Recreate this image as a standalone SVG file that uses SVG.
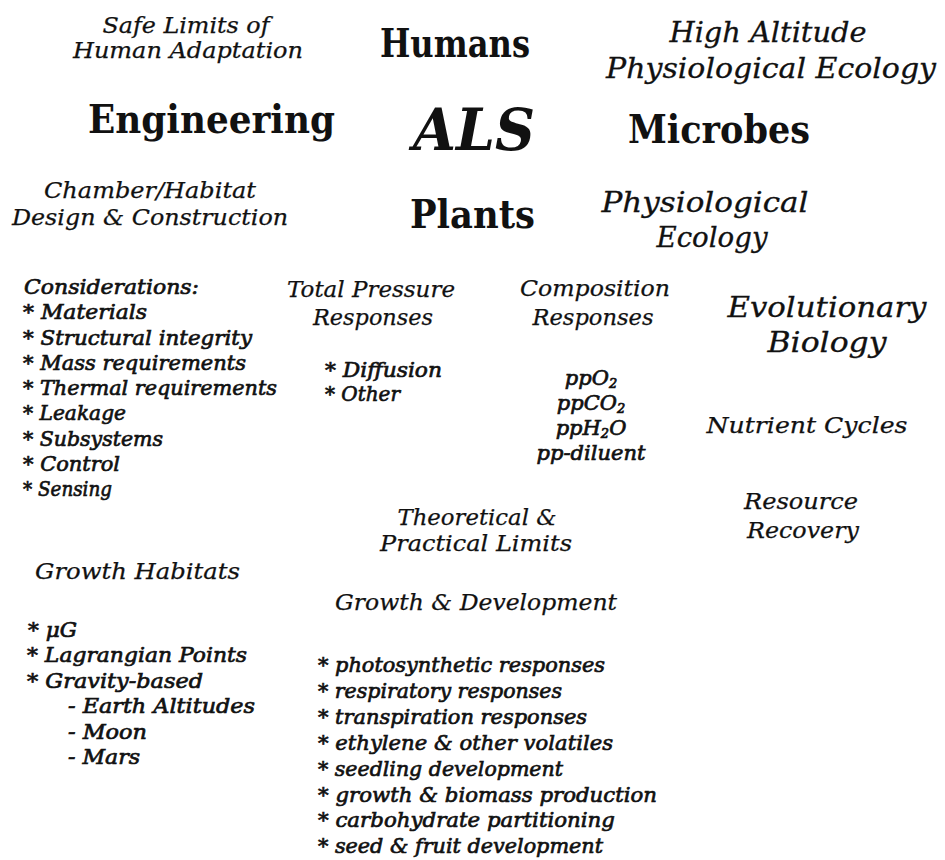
<svg xmlns="http://www.w3.org/2000/svg" width="945" height="860" viewBox="0 0 945 860">
<style>
text{font-family:"DejaVu Serif","Liberation Serif",serif;fill:#111}
.i{font-style:italic;font-size:22px;stroke:#111;stroke-width:0.25px}
.l{font-style:italic;font-size:21px;stroke:#111;stroke-width:0.7px}
.h{font-weight:bold;font-size:40px}
.c{text-anchor:middle}
.m{font-style:italic;font-size:28px;stroke:#111;stroke-width:0.3px}
</style>
<rect width="945" height="860" fill="#fff"/>
<g id="safe-limits">
<text class="i c" x="186" y="33" textLength="167" lengthAdjust="spacingAndGlyphs">Safe Limits of</text>
<text class="i c" x="188" y="58" textLength="230" lengthAdjust="spacingAndGlyphs">Human Adaptation</text>
</g>
<g id="humans"><text class="h" x="380" y="57" textLength="150" lengthAdjust="spacingAndGlyphs">Humans</text></g>
<g id="high-altitude">
<text class="m c" x="768" y="42" font-size="27" textLength="197" lengthAdjust="spacingAndGlyphs">High Altitude</text>
<text class="m c" x="771" y="78" font-size="27" textLength="330" lengthAdjust="spacingAndGlyphs">Physiological Ecology</text>
</g>
<g id="engineering"><text class="h" x="88" y="133" font-size="42" textLength="247" lengthAdjust="spacingAndGlyphs">Engineering</text></g>
<g id="als"><text x="413" y="150" font-size="58" font-weight="bold" font-style="italic" textLength="122" lengthAdjust="spacingAndGlyphs">ALS</text></g>
<g id="microbes"><text class="h" x="628" y="143" textLength="182" lengthAdjust="spacingAndGlyphs">Microbes</text></g>
<g id="chamber">
<text class="i c" x="150" y="198" textLength="212" lengthAdjust="spacingAndGlyphs">Chamber/Habitat</text>
<text class="i c" x="150" y="225" textLength="276" lengthAdjust="spacingAndGlyphs">Design &amp; Construction</text>
</g>
<g id="plants"><text class="h" x="410" y="228" textLength="125" lengthAdjust="spacingAndGlyphs">Plants</text></g>
<g id="physiological-ecology">
<text class="m c" x="705" y="212" font-size="29" textLength="207" lengthAdjust="spacingAndGlyphs">Physiological</text>
<text class="m c" x="712" y="247" font-size="29" textLength="111" lengthAdjust="spacingAndGlyphs">Ecology</text>
</g>
<g id="considerations">
<text class="l" x="24" y="294" textLength="175" lengthAdjust="spacingAndGlyphs">Considerations:</text>
<text class="l" x="23" y="319" textLength="124" lengthAdjust="spacingAndGlyphs">* Materials</text>
<text class="l" x="23" y="345" textLength="229" lengthAdjust="spacingAndGlyphs">* Structural integrity</text>
<text class="l" x="23" y="370" textLength="223" lengthAdjust="spacingAndGlyphs">* Mass requirements</text>
<text class="l" x="23" y="395" textLength="254" lengthAdjust="spacingAndGlyphs">* Thermal requirements</text>
<text class="l" x="23" y="420" textLength="103" lengthAdjust="spacingAndGlyphs">* Leakage</text>
<text class="l" x="23" y="446" textLength="140" lengthAdjust="spacingAndGlyphs">* Subsystems</text>
<text class="l" x="23" y="471" textLength="97" lengthAdjust="spacingAndGlyphs">* Control</text>
<text class="l" x="23" y="496" textLength="89" lengthAdjust="spacingAndGlyphs">* Sensing</text>
</g>
<g id="total-pressure">
<text class="i c" x="371" y="297" textLength="168" lengthAdjust="spacingAndGlyphs">Total Pressure</text>
<text class="i c" x="373" y="325" textLength="120" lengthAdjust="spacingAndGlyphs">Responses</text>
<text class="l" x="325" y="377" textLength="117" lengthAdjust="spacingAndGlyphs">* Diffusion</text>
<text class="l" x="325" y="401" textLength="75" lengthAdjust="spacingAndGlyphs">* Other</text>
</g>
<g id="composition">
<text class="i c" x="595" y="296" textLength="150" lengthAdjust="spacingAndGlyphs">Composition</text>
<text class="i c" x="593" y="325" textLength="121" lengthAdjust="spacingAndGlyphs">Responses</text>
<text class="l c" x="591" y="385" font-size="20">ppO<tspan font-size="13" dy="3">2</tspan></text>
<text class="l c" x="591" y="410" font-size="20">ppCO<tspan font-size="13" dy="3">2</tspan></text>
<text class="l c" x="591" y="435" font-size="20">ppH<tspan font-size="13" dy="3">2</tspan><tspan dy="-3">O</tspan></text>
<text class="l c" x="591" y="460" font-size="20">pp-diluent</text>
</g>
<g id="evolutionary">
<text class="m c" x="827" y="317" font-size="31" textLength="199" lengthAdjust="spacingAndGlyphs">Evolutionary</text>
<text class="m c" x="827" y="352" font-size="31" textLength="119" lengthAdjust="spacingAndGlyphs">Biology</text>
</g>
<g id="nutrient"><text class="i c" x="807" y="433" font-size="23" textLength="201" lengthAdjust="spacingAndGlyphs">Nutrient Cycles</text></g>
<g id="resource">
<text class="i c" x="801" y="509" font-size="23" textLength="114" lengthAdjust="spacingAndGlyphs">Resource</text>
<text class="i c" x="803" y="538" font-size="23" textLength="112" lengthAdjust="spacingAndGlyphs">Recovery</text>
</g>
<g id="limits">
<text class="i c" x="477" y="525" textLength="159" lengthAdjust="spacingAndGlyphs">Theoretical &amp;</text>
<text class="i c" x="476" y="551" textLength="192" lengthAdjust="spacingAndGlyphs">Practical Limits</text>
</g>
<g id="growth-habitats">
<text class="i" x="35" y="579" textLength="205" lengthAdjust="spacingAndGlyphs">Growth Habitats</text>
<text class="l" x="28" y="637" textLength="49" lengthAdjust="spacingAndGlyphs">* μG</text>
<text class="l" x="27" y="662" textLength="220" lengthAdjust="spacingAndGlyphs">* Lagrangian Points</text>
<text class="l" x="27" y="688" textLength="176" lengthAdjust="spacingAndGlyphs">* Gravity-based</text>
<text class="l" x="68" y="713" textLength="187" lengthAdjust="spacingAndGlyphs">- Earth Altitudes</text>
<text class="l" x="68" y="739" textLength="79" lengthAdjust="spacingAndGlyphs">- Moon</text>
<text class="l" x="68" y="764" textLength="72" lengthAdjust="spacingAndGlyphs">- Mars</text>
</g>
<g id="growth-development">
<text class="i" x="335" y="610" textLength="282" lengthAdjust="spacingAndGlyphs">Growth &amp; Development</text>
<text class="l" x="318" y="672" textLength="287" lengthAdjust="spacingAndGlyphs">* photosynthetic responses</text>
<text class="l" x="318" y="698" textLength="244" lengthAdjust="spacingAndGlyphs">* respiratory responses</text>
<text class="l" x="318" y="724" textLength="269" lengthAdjust="spacingAndGlyphs">* transpiration responses</text>
<text class="l" x="318" y="750" textLength="295" lengthAdjust="spacingAndGlyphs">* ethylene &amp; other volatiles</text>
<text class="l" x="318" y="776" textLength="245" lengthAdjust="spacingAndGlyphs">* seedling development</text>
<text class="l" x="318" y="802" textLength="339" lengthAdjust="spacingAndGlyphs">* growth &amp; biomass production</text>
<text class="l" x="318" y="827" textLength="297" lengthAdjust="spacingAndGlyphs">* carbohydrate partitioning</text>
<text class="l" x="318" y="853" textLength="285" lengthAdjust="spacingAndGlyphs">* seed &amp; fruit development</text>
</g>
</svg>
